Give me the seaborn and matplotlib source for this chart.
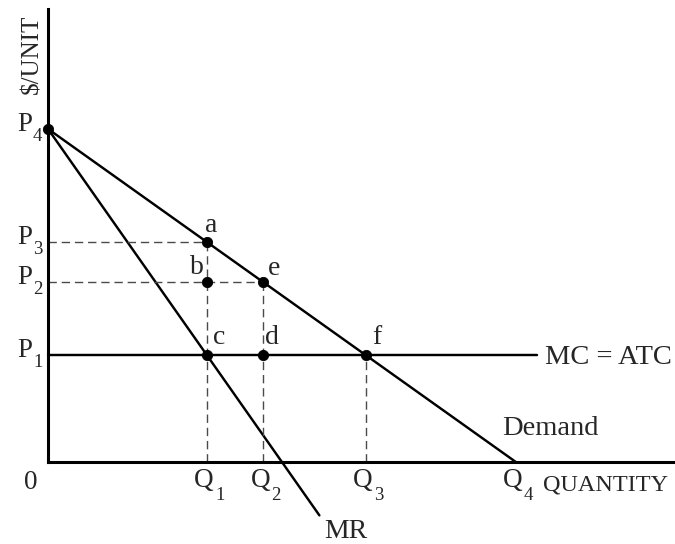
import pandas as pd
import seaborn as sns
import matplotlib.pyplot as plt

# quantities and prices on the diagram (arbitrary units)
q_subs = ['1', '2', '3', '4']
q_vals = [3.4, 4.6, 6.8, 10.0]
p_subs = ['1', '2', '3', '4']
p_vals = [3.2, 5.4, 6.6, 10.0]

# curve end points
demand_q = [0.0, 10.0]
demand_p = [10.0, 0.0]
mr_q = [0.0, 5.8]
mr_p = [10.0, -1.6]
mc_q = [0.0, 10.45]
mc_p = [3.2, 3.2]

# labelled points
pt_names = ['a', 'b', 'e', 'c', 'd', 'f']
pt_q = [3.4, 3.4, 4.6, 3.4, 4.6, 6.8]
pt_p = [6.6, 5.4, 5.4, 3.2, 3.2, 3.2]

sns.set_style('white')
plt.rcParams['font.family'] = ['Liberation Serif', 'DejaVu Serif']

fig = plt.figure(figsize=(6.75, 5.44), dpi=100)
ax = fig.add_axes([0, 0, 1, 1])
ax.set_xlim(-1.026, 13.40)
ax.set_ylim(-2.46, 13.87)

lw = 1.75
sns.lineplot(x=demand_q, y=demand_p, ax=ax, color='black', lw=lw)
sns.lineplot(x=mr_q, y=mr_p, ax=ax, color='black', lw=lw)
sns.lineplot(x=mc_q, y=mc_p, ax=ax, color='black', lw=lw)

# dashed guide lines
dash = dict(color='#4a4a4a', lw=1.0, dashes=(6, 3.5))
ax.plot([0, q_vals[0]], [p_vals[2]] * 2, **dash)
ax.plot([q_vals[0]] * 2, [0, p_vals[2]], **dash)
ax.plot([0, q_vals[1]], [p_vals[1]] * 2, **dash)
ax.plot([q_vals[1]] * 2, [0, p_vals[1]], **dash)
ax.plot([q_vals[2]] * 2, [0, p_vals[0]], **dash)

pts = pd.DataFrame({'q': pt_q + [0.0], 'p': pt_p + [p_vals[3]]})
sns.scatterplot(data=pts, x='q', y='p', ax=ax, color='black', s=55,
                edgecolor='black', zorder=5)

# axes drawn as spines through the origin
for side in ['top', 'right']:
    ax.spines[side].set_visible(False)
ax.spines['left'].set_position(('data', 0))
ax.spines['bottom'].set_position(('data', 0))
ax.spines['left'].set_bounds(0, 13.6)
ax.spines['bottom'].set_bounds(0, 13.4)
for side in ['left', 'bottom']:
    ax.spines[side].set_linewidth(2.2)
    ax.spines[side].set_color('black')
ax.set_xticks([])
ax.set_yticks([])
ax.set_xlabel('')
ax.set_ylabel('')

fs = 19.5
sub_fs = 13.5
off = dict(textcoords='offset pixels')

# price labels with subscripts
for sub, p in zip(p_subs, p_vals):
    ax.annotate('P', (0, p), xytext=(-16, -2), ha='right', va='baseline',
                fontsize=fs, **off)
    ax.annotate(sub, (0, p), xytext=(-15, -12), ha='left', va='baseline',
                fontsize=sub_fs, **off)
# quantity labels with subscripts
for sub, q in zip(q_subs, q_vals):
    ax.annotate('Q', (q, 0), xytext=(-3, -25), ha='center', va='baseline',
                fontsize=fs, **off)
    ax.annotate(sub, (q, 0), xytext=(8, -38), ha='left', va='baseline',
                fontsize=sub_fs, **off)
ax.annotate('0', (0, 0), xytext=(-17, -27), ha='center', va='baseline',
            fontsize=fs, **off)

offsets = {'a': (-2, 10), 'b': (-17, 8), 'e': (5, 7),
           'c': (6, 11), 'd': (2, 11), 'f': (6, 11)}
for name, q, p in zip(pt_names, pt_q, pt_p):
    ax.annotate(name, (q, p), xytext=offsets[name], ha='left', va='baseline',
                fontsize=20, **off)

ax.annotate('MC = ATC', (mc_q[1], mc_p[1]), xytext=(8, -9), ha='left',
            va='baseline', fontsize=20.5, **off)
ax.annotate('Demand', (9.70, 0.81), ha='left', va='baseline', fontsize=20.5)
ax.annotate('MR', (mr_q[1], mr_p[1]), xytext=(5, -23), ha='left',
            va='baseline', fontsize=20, **off)
ax.annotate('QUANTITY', (10.58, 0), xytext=(0, -28), ha='left',
            va='baseline', fontsize=17.5, **off)
ax.annotate('$/UNIT', (0, 13.6), xytext=(-10, -6), ha='right', va='baseline',
            rotation=90, rotation_mode='anchor', fontsize=18, **off)

fig.savefig('out.png', dpi=100)
